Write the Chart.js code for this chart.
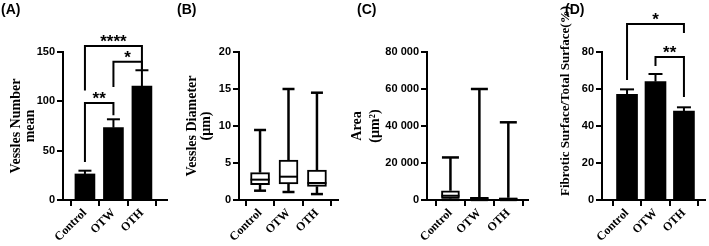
<!DOCTYPE html>
<html>
<head>
<meta charset="utf-8">
<script src="https://cdn.jsdelivr.net/npm/chart.js@4.4.0/dist/chart.umd.min.js"></script>
<style>
body { margin: 0; background: #fff; }
#wrap { position: relative; width: 709px; height: 246px; overflow: hidden; }
.panel { position: absolute; top: 0; }
.tag { position: absolute; top: 1px; font: bold 14px "Liberation Sans", Arial, sans-serif; color: #000; }
</style>
</head>
<body>
<div id="wrap">
  <canvas id="chartA" class="panel" style="left:0px" width="172" height="246"></canvas>
  <canvas id="chartB" class="panel" style="left:172px" width="173" height="246"></canvas>
  <canvas id="chartC" class="panel" style="left:345px" width="185" height="246"></canvas>
  <canvas id="chartD" class="panel" style="left:530px" width="179" height="246"></canvas>
  <div class="tag" style="left:1px">(A)</div>
  <div class="tag" style="left:177px">(B)</div>
  <div class="tag" style="left:357px">(C)</div>
  <div class="tag" style="left:565px">(D)</div>
</div>
<script>
var groups = ["Control", "OTW", "OTH"];

// (A) vessel number, mean + SEM
var vesselMean = [26.4, 73.3, 115.5];
var vesselSem = [3.3, 8.5, 16];

// (B) vessel diameter, box plot (um)
var diamMin = [1.26, 1.08, 0.8];
var diamQ1 = [2.07, 2.16, 1.85];
var diamMed = [2.75, 3.15, 2.3];
var diamQ3 = [3.7, 5.4, 4.05];
var diamMax = [9.46, 15.0, 14.5];

// (C) vessel area, box plot (um2)
var areaMin = [100, 50, 50];
var areaQ1 = [800, 400, 300];
var areaMed = [2300, 800, 600];
var areaQ3 = [5000, 1500, 1200];
var areaMax = [23000, 60000, 42000];

// (D) fibrotic surface, mean + SEM
var fibMean = [57.1, 64, 48.1];
var fibSem = [2.7, 4.1, 2.0];

var yTicksA = [0, 50, 100, 150];
var yTicksB = [0, 5, 10, 15, 20];
var yTicksC = [0, 20000, 40000, 60000, 80000];
var yTicksD = [0, 20, 40, 60, 80];

var tickFont = { family: "'Liberation Sans', Arial, sans-serif", size: 11, weight: "bold" };
var catFont = { family: "'Liberation Serif', 'Times New Roman', serif", size: 12, weight: "bold" };
var titleFont = { family: "'Liberation Serif', 'Times New Roman', serif", size: 14, weight: "bold", lineHeight: 1 };

function points(vals) {
    var out = [];
    for (var i = 0; i < vals.length; i++) {
        out.push({ x: i + 1, y: vals[i] });
    }
    return out;
}

function boxes(lo, hi) {
    var out = [];
    for (var i = 0; i < lo.length; i++) {
        out.push({ x: i + 1, y: [lo[i], hi[i]] });
    }
    return out;
}

function spaced(v) {
    return String(v).replace(/\B(?=(\d{3})+(?!\d))/g, " ");
}

function line(ctx, x0, y0, x1, y1) {
    ctx.beginPath();
    ctx.moveTo(x0, y0);
    ctx.lineTo(x1, y1);
    ctx.stroke();
}

// error bars, box whiskers, significance brackets
var statsPlugin = {
    id: "stats",
    afterDatasetsDraw: function(chart, args, opts) {
        var ctx = chart.ctx;
        var xs = chart.scales.x, ys = chart.scales.y;
        var i, cx;
        ctx.save();
        ctx.strokeStyle = "#000";
        ctx.fillStyle = "#000";
        ctx.lineWidth = 2;

        if (opts.mean) {
            for (i = 0; i < opts.mean.length; i++) {
                cx = xs.getPixelForValue(i + 1);
                var y0 = ys.getPixelForValue(opts.mean[i]);
                var y1 = ys.getPixelForValue(opts.mean[i] + opts.sem[i]);
                line(ctx, cx, y0, cx, y1);
                line(ctx, cx - opts.cap / 2, y1, cx + opts.cap / 2, y1);
            }
        }

        if (opts.box) {
            var b = opts.box;
            for (i = 0; i < b.med.length; i++) {
                cx = xs.getPixelForValue(i + 1);
                ctx.lineWidth = 2.5;
                var top = ys.getPixelForValue(b.max[i]);
                var bot = ys.getPixelForValue(b.min[i]);
                line(ctx, cx, ys.getPixelForValue(b.q3[i]), cx, top);
                line(ctx, cx, ys.getPixelForValue(b.q1[i]), cx, bot);
                line(ctx, cx - opts.cap / 2, top, cx + opts.cap / 2, top);
                line(ctx, cx - opts.cap / 2, bot, cx + opts.cap / 2, bot);
                ctx.lineWidth = 2;
                var m = ys.getPixelForValue(b.med[i]);
                line(ctx, cx - opts.boxWidth / 2, m, cx + opts.boxWidth / 2, m);
            }
        }

        if (opts.brackets) {
            ctx.font = "bold 17px 'Liberation Sans', Arial, sans-serif";
            ctx.textAlign = "center";
            ctx.textBaseline = "alphabetic";
            ctx.lineWidth = 2;
            ctx.lineJoin = "miter";
            for (i = 0; i < opts.brackets.length; i++) {
                var k = opts.brackets[i];
                var xa = xs.getPixelForValue(k.from + 1);
                var xb = xs.getPixelForValue(k.to + 1);
                var yt = ys.getPixelForValue(k.top);
                ctx.beginPath();
                ctx.moveTo(xa, ys.getPixelForValue(k.legA));
                ctx.lineTo(xa, yt);
                ctx.lineTo(xb, yt);
                ctx.lineTo(xb, ys.getPixelForValue(k.legB));
                ctx.stroke();
                ctx.fillText(k.label, (xa + xb) / 2, yt + 1);
            }
        }

        if (opts.sideTitle) {
            var t = opts.sideTitle;
            ctx.font = "bold 13px 'Liberation Serif', 'Times New Roman', serif";
            ctx.textAlign = "center";
            ctx.textBaseline = "middle";
            ctx.translate(t.x, t.y);
            ctx.rotate(-Math.PI / 2);
            ctx.fillText(t.text, 0, 0);
        }
        ctx.restore();
    }
};

function makeChart(id, cfg) {
    var yTicks = cfg.yTicks;
    return new Chart(document.getElementById(id), {
        type: "bar",
        data: { datasets: [cfg.dataset] },
        plugins: [statsPlugin],
        options: {
            responsive: false,
            animation: false,
            layout: { padding: { top: 52, right: cfg.padRight, bottom: 0, left: 0 } },
            plugins: {
                legend: { display: false },
                tooltip: { enabled: false },
                stats: cfg.stats
            },
            scales: {
                x: {
                    type: "linear",
                    min: cfg.xMin,
                    max: cfg.xMax,
                    offset: false,
                    afterBuildTicks: function(scale) {
                        scale.ticks = groups.map(function(g, i) { return { value: i + 1 }; });
                    },
                    afterFit: function(scale) { scale.height = 46; },
                    ticks: {
                        autoSkip: false,
                        minRotation: 45,
                        maxRotation: 45,
                        padding: 0,
                        color: "#000",
                        font: catFont,
                        callback: function(v) { return groups[v - 1]; }
                    },
                    grid: { display: true, drawOnChartArea: false, drawTicks: true, tickLength: 6, color: "#000", lineWidth: 2 },
                    border: { display: true, color: "#000", width: 2 }
                },
                y: {
                    min: 0,
                    max: yTicks[yTicks.length - 1],
                    afterBuildTicks: function(scale) {
                        scale.ticks = yTicks.map(function(v) { return { value: v }; });
                    },
                    afterFit: function(scale) { scale.width = cfg.yWidth; },
                    ticks: {
                        padding: 2,
                        color: "#000",
                        font: tickFont,
                        callback: function(v) { return spaced(v); }
                    },
                    title: cfg.yTitle ? {
                        display: true,
                        text: cfg.yTitle,
                        color: "#000",
                        font: cfg.yTitleFont || titleFont,
                        padding: { top: cfg.titlePad, bottom: 0 }
                    } : { display: false },
                    grid: { display: true, drawOnChartArea: false, drawTicks: true, tickLength: 6, color: "#000", lineWidth: 2 },
                    border: { display: true, color: "#000", width: 2 }
                }
            }
        }
    });
}

makeChart("chartA", {
    yTicks: yTicksA, yWidth: 63, padRight: 5, xMin: 0.23, xMax: 3.88,
    yTitle: ["Vessles Number", "mean"], titlePad: 9,
    dataset: { data: points(vesselMean), backgroundColor: "#000", barThickness: 20 },
    stats: {
        mean: vesselMean, sem: vesselSem, cap: 13,
        brackets: [
            { from: 0, to: 2, top: 156, legA: 111, legB: 132, label: "****" },
            { from: 1, to: 2, top: 140, legA: 114.5, legB: 132, label: "*" },
            { from: 0, to: 1, top: 98.3, legA: 38.5, legB: 86, label: "**" }
        ]
    }
});

makeChart("chartB", {
    yTicks: yTicksB, yWidth: 67, padRight: 7, xMin: 0.26, xMax: 3.74,
    yTitle: ["Vessles Diameter", "(\u00b5m)"], titlePad: 13,
    dataset: { data: boxes(diamQ1, diamQ3), backgroundColor: "#fff", borderColor: "#000", borderWidth: 2, borderSkipped: false, barThickness: 19 },
    stats: { box: { min: diamMin, q1: diamQ1, med: diamMed, q3: diamQ3, max: diamMax }, cap: 12, boxWidth: 19 }
});

makeChart("chartC", {
    yTicks: yTicksC, yWidth: 82, padRight: 2, xMin: 0.19, xMax: 3.68,
    yTitle: ["Area", "(\u00b5m\u00b2)"], titlePad: 3,
    yTitleFont: { family: "'Liberation Serif', 'Times New Roman', serif", size: 14, weight: "bold", lineHeight: 1.3 },
    dataset: { data: boxes(areaQ1, areaQ3), backgroundColor: "#fff", borderColor: "#000", borderWidth: 2, borderSkipped: false, barThickness: 18 },
    stats: { box: { min: areaMin, q1: areaQ1, med: areaMed, q3: areaQ3, max: areaMax }, cap: 17, boxWidth: 18 }
});

makeChart("chartD", {
    yTicks: yTicksD, yWidth: 72, padRight: 4, xMin: 0.12, xMax: 3.74,
    dataset: { data: points(fibMean), backgroundColor: "#000", barThickness: 21 },
    stats: {
        mean: fibMean, sem: fibSem, cap: 14,
        sideTitle: { text: "Fibrotic Surface/Total Surface(%)", x: 36, y: 101 },
        brackets: [
            { from: 0, to: 2, top: 95.1, legA: 64.9, legB: 90.3, label: "*" },
            { from: 1, to: 2, top: 77.3, legA: 72.4, legB: 55.7, label: "**" }
        ]
    }
});
</script>
</body>
</html>
